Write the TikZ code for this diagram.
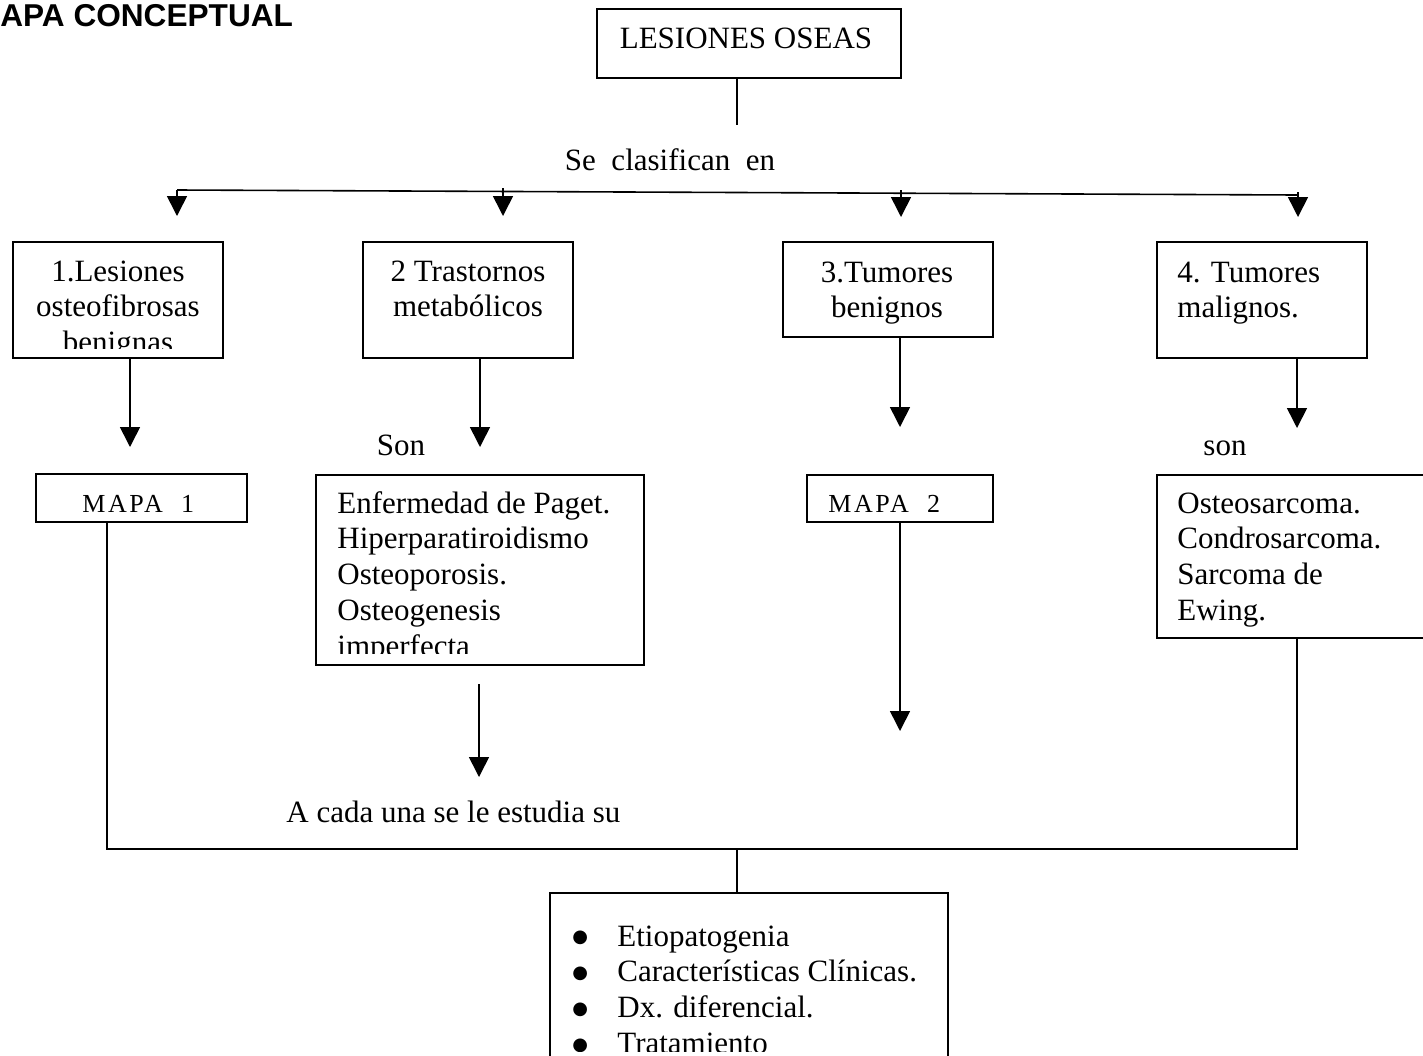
\documentclass[tikz,border=0pt]{standalone}
\usepackage{fontspec}
\setmainfont{Liberation Serif}
\newfontfamily\titlesans{Liberation Sans}
\newfontfamily\dotfont{DejaVu Sans}
\usetikzlibrary{arrows.meta}
\newcommand\bodyfont{\fontsize{15.5}{17.9}\selectfont}
\newcommand\mapafont{\fontsize{13}{15}\selectfont\addfontfeature{LetterSpace=10}}
\newcommand\itemdot{\raisebox{1.6pt}{\dotfont\fontsize{9}{10}\selectfont ●}}
% box from corner (#2,#3) to corner (#4,#5), in 0.5pt units
\newcommand\mkbox[5]{\node[box,minimum width={(#4-#2)*0.5pt},minimum height={(#5-#3)*0.5pt}] (#1) at ({(#2+#4)/2},{(#3+#5)/2}) {};}
\begin{document}
\begin{tikzpicture}[x=0.5pt,y=-0.5pt,
  ln/.style={line width=0.8pt},
  arr/.style={ln,-{Triangle[width=10pt,length=10pt]}},
  box/.style={draw,line width=0.8pt,inner sep=0pt,outer sep=0pt},
  txt/.style={inner sep=0pt,font=\bodyfont}]
\useasboundingbox (0,0) rectangle (1423,1055);

% title
\node[inner sep=0pt,anchor=base west,font=\titlesans\bfseries\fontsize{15.8}{18}\selectfont] (title) at (0,26) {APA CONCEPTUAL};

% boxes
\mkbox{top}{597}{9}{901}{78}
\mkbox{b1}{13}{242}{223}{358}
\mkbox{b2}{363}{242}{573}{358}
\mkbox{b3}{783}{242}{993}{337}
\mkbox{b4}{1157}{242}{1367}{358}
\mkbox{m1}{36}{474}{247}{522}
\mkbox{pg}{316}{475}{644}{665}
\mkbox{m2}{807}{475}{993}{522}
\mkbox{ml}{1157}{475}{1440}{638}
\mkbox{bot}{550}{893}{948}{1070}

% box texts
\node[txt,anchor=base] (tt) at (746,48) {LESIONES OSEAS};
\begin{scope}
  \clip (13,242) rectangle (223,348);
  \node[txt,anchor=base] (t1) at (118,281) {\parbox[t]{110pt}{\centering 1.Lesiones\\osteofibrosas\\benignas}};
\end{scope}
\node[txt,anchor=base] (t2) at (468,281) {\parbox[t]{110pt}{\centering 2 Trastornos\\metabólicos}};
\node[txt,anchor=base] (t3) at (887,282) {\parbox[t]{110pt}{\centering 3.Tumores\\benignos}};
\node[txt,anchor=base west] (t4) at (1177,282) {\parbox[t]{100pt}{\raggedright 4. Tumores\\malignos.}};
\node[inner sep=0pt,anchor=base west,font=\mapafont] (tm1) at (82,512) {MAPA~~1};
\node[inner sep=0pt,anchor=base west,font=\mapafont] (tm2) at (828,512) {MAPA~~2};
\begin{scope}
  \clip (316,475) rectangle (644,653);
  \node[txt,anchor=base west] (tpg) at (337,513) {\parbox[t]{160pt}{\raggedright Enfermedad de Paget.\\Hiperparatiroidismo\\Osteoporosis.\\Osteogenesis\\imperfecta}};
\end{scope}
\node[txt,anchor=base west] (tml) at (1177,513) {\parbox[t]{120pt}{\raggedright Osteosarcoma.\\Condrosarcoma.\\Sarcoma de\\Ewing.}};
\begin{scope}
  \clip (550,893) rectangle (948,1051);
  \node[txt,anchor=base west] (bul) at (572,946) {\parbox[t]{15pt}{\itemdot\\\itemdot\\\itemdot\\\itemdot}};
  \node[txt,anchor=base west] (tbot) at (617,946) {\parbox[t]{180pt}{\raggedright Etiopatogenia\\Características Clínicas.\\Dx. diferencial.\\Tratamiento}};
\end{scope}

% free labels
\node[txt,anchor=base] (cls) at (670,170) {Se~~clasifican~~en};
\node[txt,anchor=base] (son1) at (401,455) {Son};
\node[txt,anchor=base] (son2) at (1225,455) {son};
\node[txt,anchor=base west] (est) at (286,822) {A cada una se le estudia su};

% top stem and distribution bar
\coordinate (tl) at (737,125);
\draw[ln] (top.south -| tl) -- (tl);
\coordinate (h1) at (177,190);
\coordinate (h4) at (1298,195);
\draw[ln] (h1) -- (h4);
\coordinate (s2) at (503,188);
\coordinate (s3) at (901,190);
\coordinate (s4) at (1298,192);
\coordinate (d1) at (177,216);
\coordinate (d2) at (503,216);
\coordinate (d3) at (901,217);
\coordinate (d4) at (1298,217);
\draw[arr] (h1) -- (d1);
\draw[arr] (s2) -- (d2);
\draw[arr] (s3) -- (d3);
\draw[arr] (s4) -- (d4);

% arrows under the four categories
\coordinate (a1) at (130,447);
\coordinate (a2) at (480,447);
\coordinate (a3) at (900,427);
\coordinate (a4) at (1297,428);
\draw[arr] (b1.south -| a1) -- (a1);
\draw[arr] (b2.south -| a2) -- (a2);
\draw[arr] (b3.south -| a3) -- (a3);
\draw[arr] (b4.south -| a4) -- (a4);

% lower arrows
\coordinate (a5) at (900,731);
\draw[arr] (m2.south -| a5) -- (a5);
\coordinate (p0) at (479,684);
\coordinate (p1) at (479,777);
\draw[arr] (p0) -- (p1);

% joining line to the study box
\coordinate (jl) at (107,849);
\coordinate (jr) at (1297,849);
\coordinate (jm) at (737,849);
\draw[ln] (m1.south -| jl) -- (jl) -- (jr) -- (ml.south -| jr);
\draw[ln] (jm) -- (bot.north -| jm);
\end{tikzpicture}
\end{document}
